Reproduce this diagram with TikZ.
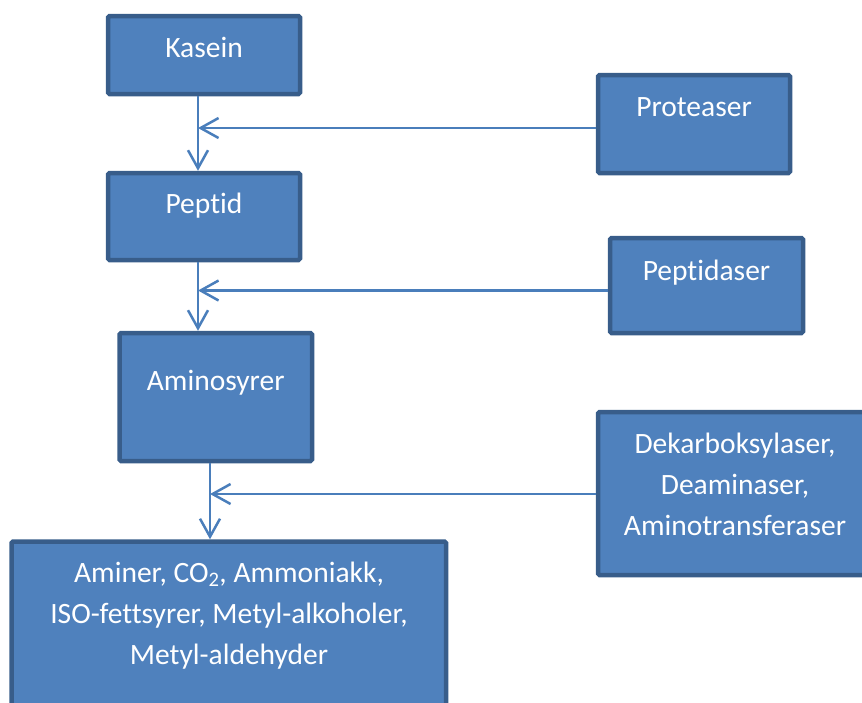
\documentclass[tikz,border=0pt]{standalone}
\usepackage{fontspec}
\setmainfont{Carlito}[Ligatures=NoCommon]
\usetikzlibrary{arrows.meta}
\definecolor{boxfill}{HTML}{4F81BD}
\definecolor{boxline}{HTML}{385D8A}
\definecolor{flowline}{HTML}{4A7EBB}
\newcommand\stacklines[1]{\begin{tabular}[t]{@{}c@{}}#1\end{tabular}}
\begin{document}
\begin{tikzpicture}[x=1pt, y=-1pt,
  stepbox/.style={draw=boxline, fill=boxfill, line width=4.5pt, rounded corners=1.5pt, inner sep=0pt},
  boxtext/.style={anchor=base, inner sep=0pt, text=white, font=\fontsize{29.5}{41}\selectfont},
  flow/.style={draw=flowline, line width=2.5pt, -{Straight Barb[length=18pt, width=20pt]}}]
\useasboundingbox (0,0) rectangle (862,702);

% boxes
\node[stepbox, minimum width=192pt, minimum height=78pt]   (kasein) at (204,55) {};
\node[stepbox, minimum width=192pt, minimum height=98pt]   (prot)   at (694,124) {};
\node[stepbox, minimum width=192pt, minimum height=87pt]   (peptid) at (204,216.5) {};
\node[stepbox, minimum width=193pt, minimum height=95pt]   (pase)   at (706.5,285.5) {};
\node[stepbox, minimum width=192.5pt, minimum height=128pt] (amino) at (215.75,397) {};
\node[stepbox, minimum width=276pt, minimum height=163pt]  (enz)    at (736,493.5) {};
\node[stepbox, minimum width=434.5pt, minimum height=180.5pt] (prod) at (228.75,631.75) {};

% labels
\node[boxtext] (kasein-t) at (204,57) {Kasein};
\node[boxtext] (prot-t)   at (694,116.7) {Proteaser};
\node[boxtext] (peptid-t) at (204,213) {Peptid};
\node[boxtext] (pase-t)   at (706.5,280) {Peptidaser};
\node[boxtext] (amino-t)  at (215.75,390.7) {Aminosyrer};
\node[boxtext] (enz-t)    at (735,453) {\stacklines{Dekarboksylaser,\\Deaminaser,\\Aminotransferaser}};
\node[boxtext] (prod-t)   at (229,582) {\stacklines{Aminer, CO\textsubscript{2}, Ammoniakk,\\ISO-fettsyrer, Metyl-alkoholer,\\Metyl-aldehyder}};

% junctions on the main chain
\coordinate (j1) at (198,128);
\coordinate (j2) at (198,290.5);
\coordinate (j3) at (210,494);

% connectors
\draw[flow] (j1 |- kasein.south) -- (j1 |- peptid.north);
\draw[flow] (prot.west |- j1) -- (j1);
\draw[flow] (j2 |- peptid.south) -- (j2 |- amino.north);
\draw[flow] (pase.west |- j2) -- (j2);
\draw[flow] (j3 |- amino.south) -- (j3 |- prod.north);
\draw[flow] (enz.west |- j3) -- (j3);
\end{tikzpicture}
\end{document}
